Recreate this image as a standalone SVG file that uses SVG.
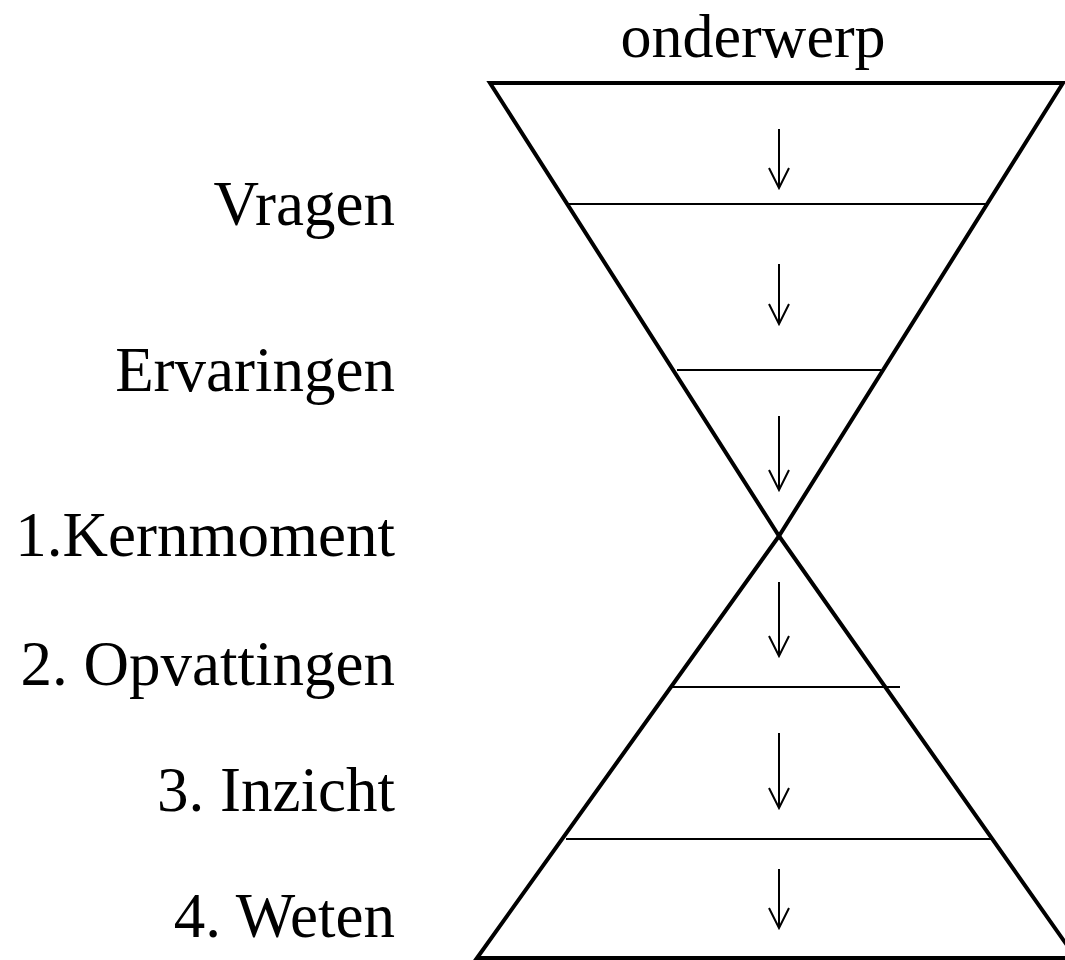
<svg xmlns="http://www.w3.org/2000/svg" width="1065" height="960" viewBox="0 0 1065 960">
<style>
.thick{fill:none;stroke:#000;stroke-width:4;stroke-linejoin:miter}
.thin{fill:none;stroke:#000;stroke-width:2}
.arr{fill:none;stroke:#000;stroke-width:2}
.lbl{font-family:"Liberation Serif","Times New Roman",serif;font-size:63px;fill:#000}
</style>
<rect width="1065" height="960" fill="#fff"/>
<g id="title"><text class="lbl" x="753" y="57" text-anchor="middle" style="font-size:62px">onderwerp</text></g>
<g id="labels">
<text class="lbl" x="395" y="225" text-anchor="end">Vragen</text>
<text class="lbl" x="395" y="391" text-anchor="end">Ervaringen</text>
<text class="lbl" x="395" y="556" text-anchor="end">1.Kernmoment</text>
<text class="lbl" x="395" y="685" text-anchor="end">2. Opvattingen</text>
<text class="lbl" x="395" y="811" text-anchor="end">3. Inzicht</text>
<text class="lbl" x="395" y="937" text-anchor="end">4. Weten</text>
</g>
<g id="top-funnel"><polygon class="thick" points="490,83 1063,83 779,536"/></g>
<g id="bottom-funnel"><polygon class="thick" points="779,536 1076,958 477,958"/></g>
<g id="dividers">
<line class="thin" x1="569" y1="204" x2="988" y2="204"/>
<line class="thin" x1="677" y1="370" x2="881" y2="370"/>
<line class="thin" x1="672" y1="687" x2="900" y2="687"/>
<line class="thin" x1="566" y1="839" x2="991" y2="839"/>
</g>
<g id="connectors">
<path class="arr" d="M779,129V188M769,168L779,188L789,168"/>
<path class="arr" d="M779,264V324M769,304L779,324L789,304"/>
<path class="arr" d="M779,416V490M769,470L779,490L789,470"/>
<path class="arr" d="M779,582V656M769,636L779,656L789,636"/>
<path class="arr" d="M779,733V808M769,788L779,808L789,788"/>
<path class="arr" d="M779,869V928M769,908L779,928L789,908"/>
</g>
</svg>
